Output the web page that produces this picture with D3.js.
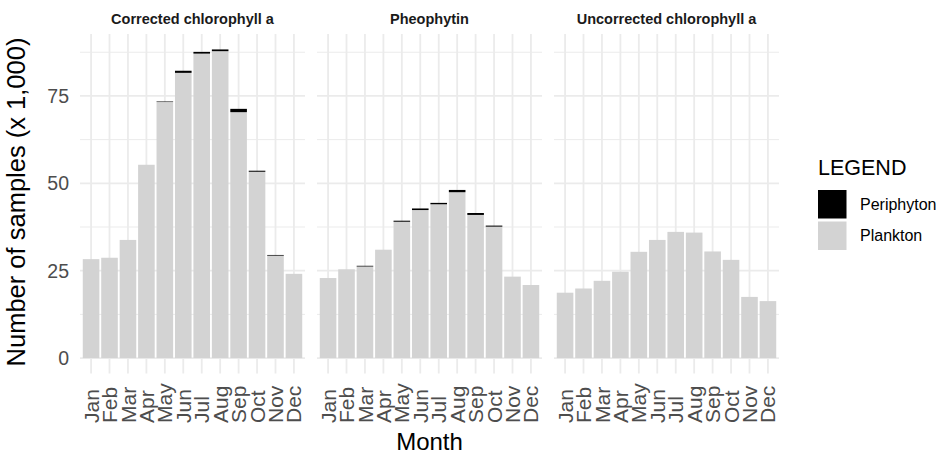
<!DOCTYPE html>
<html>
<head>
<meta charset="utf-8">
<script src="https://cdn.jsdelivr.net/npm/d3@7"></script>
<style>
  body { margin: 0; background: #fff; }
  text { font-family: "Liberation Sans", Arial, sans-serif; }
</style>
</head>
<body>
<div id="chart"></div>
<script>
// data (thousands of samples)
var months = ["Jan","Feb","Mar","Apr","May","Jun","Jul","Aug","Sep","Oct","Nov","Dec"];
var panels = ["Corrected chlorophyll a", "Pheophytin", "Uncorrected chlorophyll a"];
var groups = ["Periphyton", "Plankton"];
var yTicks = [0, 25, 50, 75];

var planktonCorrected   = [28.3, 28.7, 33.8, 55.3, 73.25, 81.6, 87.1, 87.8, 70.35, 53.3, 29.3, 24.1];
var periphytonCorrected = [0, 0, 0, 0, 0.15, 0.6, 0.5, 0.5, 0.95, 0.3, 0.2, 0];
var planktonPheo        = [22.9, 25.4, 26.2, 31.0, 39.0, 42.35, 44.0, 47.45, 40.95, 37.6, 23.3, 20.9];
var periphytonPheo      = [0, 0, 0.2, 0, 0.3, 0.45, 0.4, 0.65, 0.55, 0.3, 0, 0];
var planktonUncorr      = [18.7, 19.9, 22.1, 24.7, 30.4, 33.8, 36.1, 35.9, 30.5, 28.1, 17.5, 16.3];
var periphytonUncorr    = [0, 0, 0, 0, 0, 0, 0, 0, 0, 0, 0, 0];

var planktonByPanel = [planktonCorrected, planktonPheo, planktonUncorr];
var periphytonByPanel = [periphytonCorrected, periphytonPheo, periphytonUncorr];

var colors = {Periphyton: "#000000", Plankton: "#d3d3d3"};

var width = 942, height = 456;
var panelW = 225, panelGap = 12, panelLeft = 80;
var panelTop = 34, panelBottom = 373.5;

var svg = d3.select("#chart")
  .append("svg")
    .attr("width", width)
    .attr("height", height);

// y scale shared by all panels (ggplot style 5% expansion both ends)
var maxTotal = d3.max(planktonByPanel, function(p, k) {
  return d3.max(p, function(v, i) { return v + periphytonByPanel[k][i]; });
});
var y = d3.scaleLinear()
  .domain([-0.05 * maxTotal, 1.05 * maxTotal])
  .range([panelBottom, panelTop]);

var minorTicks = [12.5, 37.5, 62.5, 87.5];

panels.forEach(function(name, k) {
  var x0 = panelLeft + k * (panelW + panelGap);
  var unit = panelW / 12.2;
  // discrete x: months at 1..12, expanded 0.6 each side
  var x = d3.scaleLinear().domain([0.4, 12.6]).range([x0, x0 + panelW]);

  var g = svg.append("g");

  // minor grid
  g.selectAll(".minor")
    .data(minorTicks.filter(function(t) { return y(t) > panelTop; }))
    .enter().append("line")
      .attr("x1", x0).attr("x2", x0 + panelW)
      .attr("y1", function(d) { return y(d); })
      .attr("y2", function(d) { return y(d); })
      .attr("stroke", "#ebebeb")
      .attr("stroke-width", 1);

  // major grid
  g.selectAll(".major")
    .data(yTicks)
    .enter().append("line")
      .attr("x1", x0).attr("x2", x0 + panelW)
      .attr("y1", function(d) { return y(d); })
      .attr("y2", function(d) { return y(d); })
      .attr("stroke", "#ebebeb")
      .attr("stroke-width", 1.8);

  g.selectAll(".vgrid")
    .data(months)
    .enter().append("line")
      .attr("x1", function(d, i) { return x(i + 1); })
      .attr("x2", function(d, i) { return x(i + 1); })
      .attr("y1", panelTop).attr("y2", panelBottom)
      .attr("stroke", "#ebebeb")
      .attr("stroke-width", 1.8);

  var bw = unit * 0.9;
  var plank = planktonByPanel[k], peri = periphytonByPanel[k];

  // plankton at the bottom, periphyton stacked on top
  g.selectAll(".plank")
    .data(plank)
    .enter().append("rect")
      .attr("x", function(d, i) { return x(i + 1) - bw / 2; })
      .attr("width", bw)
      .attr("y", function(d) { return y(d); })
      .attr("height", function(d) { return y(0) - y(d); })
      .attr("fill", colors.Plankton);

  g.selectAll(".peri")
    .data(peri)
    .enter().append("rect")
      .attr("x", function(d, i) { return x(i + 1) - bw / 2; })
      .attr("width", bw)
      .attr("y", function(d, i) { return y(plank[i] + d); })
      .attr("height", function(d, i) { return y(plank[i]) - y(plank[i] + d); })
      .attr("fill", colors.Periphyton);

  // strip title
  svg.append("text")
    .attr("x", x0 + panelW / 2)
    .attr("y", 24)
    .attr("text-anchor", "middle")
    .style("font-size", "14.5px")
    .style("font-weight", "bold")
    .style("fill", "#1a1a1a")
    .text(name);

  // month labels
  g.selectAll(".mlab")
    .data(months)
    .enter().append("text")
      .attr("transform", function(d, i) {
        return "translate(" + x(i + 1) + ",423) rotate(-90)";
      })
      .attr("dy", "0.36em")
      .attr("text-anchor", "start")
      .style("font-size", "21px")
      .style("fill", "#4d4d4d")
      .text(function(d) { return d; });
});

// y tick labels
svg.selectAll(".ylab")
  .data(yTicks)
  .enter().append("text")
    .attr("x", 69)
    .attr("y", function(d) { return y(d); })
    .attr("dy", "0.36em")
    .attr("text-anchor", "end")
    .style("font-size", "19.5px")
    .style("fill", "#4d4d4d")
    .text(function(d) { return d; });

// axis titles
svg.append("text")
  .attr("transform", "translate(25,202) rotate(-90)")
  .attr("text-anchor", "middle")
  .style("font-size", "25.5px")
  .style("fill", "#000")
  .text("Number of samples (x 1,000)");

svg.append("text")
  .attr("x", panelLeft + (3 * panelW + 2 * panelGap) / 2)
  .attr("y", 450)
  .attr("text-anchor", "middle")
  .style("font-size", "24px")
  .style("fill", "#000")
  .text("Month");

// legend
var legend = svg.append("g").attr("transform", "translate(818,0)");
legend.append("text")
  .attr("x", 0).attr("y", 175)
  .style("font-size", "21.5px")
  .style("fill", "#000")
  .text("LEGEND");

legend.selectAll(".key")
  .data(groups)
  .enter().append("rect")
    .attr("x", 0)
    .attr("y", function(d, i) { return 190 + i * 31.5; })
    .attr("width", 28.5).attr("height", 28.5)
    .attr("fill", function(d) { return colors[d]; });

legend.selectAll(".klab")
  .data(groups)
  .enter().append("text")
    .attr("x", 42)
    .attr("y", function(d, i) { return 204 + i * 31.5; })
    .attr("dy", "0.36em")
    .style("font-size", "16px")
    .style("fill", "#000")
    .text(function(d) { return d; });
</script>
</body>
</html>
